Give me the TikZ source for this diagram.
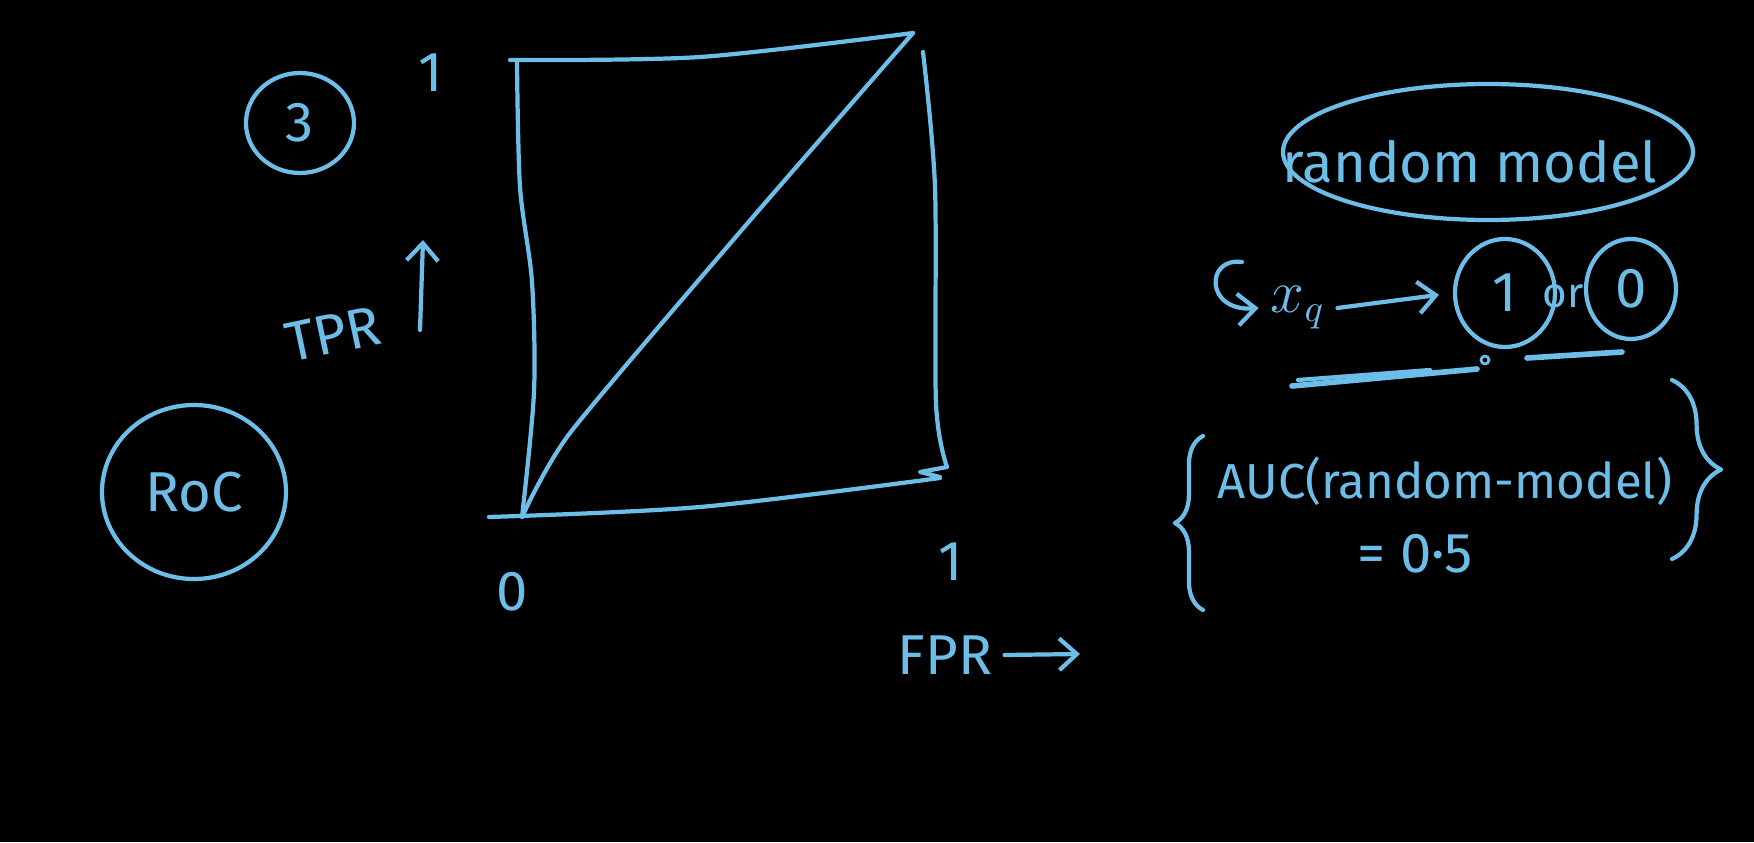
\documentclass[tikz,border=0pt]{standalone}
\usepackage{fontspec}
\setmainfont{Fira Sans}
\usetikzlibrary{arrows.meta,calc,shapes.geometric,decorations.pathreplacing}
\definecolor{chalk}{RGB}{108,190,232}

\begin{document}
\begin{tikzpicture}[line cap=round,line join=round,
  pen/.style={draw=chalk,line width=1.2pt},
  hand/.style={text=chalk,font=\fontsize{16}{19}\selectfont},
  small/.style={text=chalk,font=\fontsize{14}{17}\selectfont},
  tiny/.style={text=chalk,font=\fontsize{12}{14}\selectfont},
  ring/.style={pen,ellipse,inner sep=0pt},
  tip/.style={-{Straight Barb[length=5pt,width=9pt]}},
  curly/.style={pen,decorate,decoration={brace,amplitude=#1}}]
  \fill[black] (0,0) rectangle (17.54,8.42);
  \useasboundingbox (0,0) rectangle (17.54,8.42);
  % ROC square
  \coordinate (O) at (5.22,3.25);
  \coordinate (T) at (9.13,8.09);
  \draw[pen] plot[smooth,tension=0.5] coordinates {(5.10,7.82) (7.00,7.85) (T)};
  \draw[pen] plot[smooth,tension=0.5] coordinates {(5.17,7.79) (5.20,6.55) (5.32,5.60) (5.34,4.50) (O)};
  \draw[pen] plot[smooth,tension=0.5] coordinates {(9.23,7.90) (9.35,6.55) (9.36,4.39) (9.47,3.75)} -- (9.20,3.70) -- (9.40,3.65);
  \draw[pen] plot[smooth,tension=0.5] coordinates {(4.89,3.25) (7.00,3.35) (9.40,3.64)};
  \draw[pen] plot[smooth,tension=0.4] coordinates {(O) (5.70,4.09) (7.40,6.10) (T)};
  % axis labels
  \node[hand] (yone) at (4.31,7.69) {1};
  \node[hand] (zero) at (5.12,2.50) {0};
  \node[hand] (xone) at (9.51,2.80) {1};
  \node[hand,rotate=12] (tpr) at (3.33,5.08) {TPR};
  \coordinate (tprfoot) at (4.20,5.12);
  \coordinate (tprhead) at (4.23,6.02);
  \draw[pen,tip] (tprfoot) -- (tprhead);
  \node[hand] (fpr) at (9.45,1.87) {FPR};
  \coordinate (fprend) at (10.80,1.88);
  \draw[pen,tip] (fpr.east) -- (fprend);
  % circled notes
  \node[ring,hand,minimum width=1.08cm,minimum height=1.0cm] (three) at (3.00,7.19) {3};
  \node[ring,hand,minimum width=1.84cm,minimum height=1.74cm] (roc) at (1.94,3.50) {RoC};
  % random model
  \node[hand] (rnd) at (14.70,6.80) {random model};
  \draw[pen] (14.88,6.90) ellipse (2.05 and 0.68);
  \node[hand] (xq) at (12.98,5.34) {$x_q$};
  \draw[pen,tip] (12.42,5.80) .. controls (12.05,5.85) and (12.05,5.30) .. (xq.west);
  \node[ring,hand,minimum width=1.0cm,minimum height=1.08cm] (one) at (15.05,5.49) {1};
  \node[tiny] (or) at (15.63,5.46) {or};
  \node[ring,hand,minimum width=0.9cm,minimum height=1.0cm] (nought) at (16.31,5.53) {0};
  \draw[pen,tip,shorten >=4pt] (xq.east) -- (one.west);
  \draw[pen,line width=1.6pt] (12.92,4.56) -- (14.77,4.73);
  \draw[pen] (12.98,4.62) -- (14.30,4.72);
  \draw[pen,line width=1.6pt] (15.27,4.84) -- (16.22,4.90);
  \draw[pen,line width=0.8pt] (14.85,4.82) circle (0.04);
  % AUC
  \node[small] (auc) at (14.45,3.61) {AUC(random-model)};
  \node[hand] (half) at (14.15,2.88) {= 0·5};
  \draw[curly=8pt] (12.03,2.32) -- (12.03,4.06);
  \draw[curly=14pt] (16.72,4.62) -- (16.72,2.83);
\end{tikzpicture}
\end{document}
